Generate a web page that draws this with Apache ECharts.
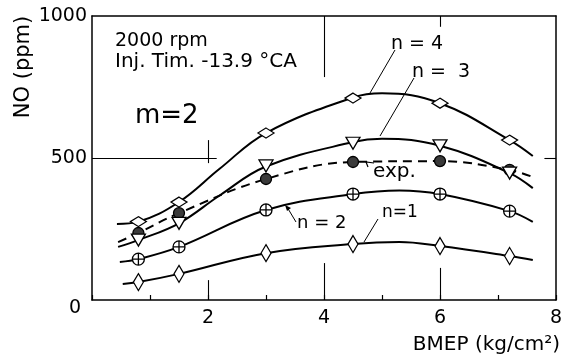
<!DOCTYPE html>
<html>
<head>
<meta charset="utf-8">
<script src="https://cdn.jsdelivr.net/npm/echarts@6/dist/echarts.min.js"></script>
<style>
html,body{margin:0;padding:0;background:#fff;}
#c{width:568px;height:360px;}
</style>
</head>
<body>
<div id="c"></div>
<script>
// Marker positions (BMEP, kg/cm2)
const bmep = [0.8, 1.5, 3.0, 4.5, 6.0, 7.2];
// NO (ppm) at markers
const n4 = [276, 345, 588, 711, 693, 563];
const n3 = [211, 270, 472, 552, 543, 447];
const n2 = [144, 187, 317, 373, 373, 313];
const n1 = [63, 92, 165, 197, 190, 155];
const expv = [236, 306, 426, 486, 489, 458];

// Fitted curves
const n4CurveX = [0.43, 0.8, 1.5, 2.2, 3.0, 4.5, 5.0, 6.0, 7.2, 7.6];
const n4CurveY = [268, 276, 345, 462, 588, 713, 728, 693, 563, 507];
const n3CurveX = [0.45, 0.8, 1.5, 2.2, 3.0, 4.5, 5.0, 6.0, 7.2, 7.6];
const n3CurveY = [187, 211, 270, 368, 470, 556, 568, 543, 447, 394];
const n2CurveX = [0.48, 0.8, 1.5, 3.0, 4.5, 5.3, 6.0, 7.2, 7.6];
const n2CurveY = [134, 144, 187, 317, 373, 386, 373, 313, 275];
const n1CurveX = [0.53, 0.8, 1.5, 3.0, 4.5, 5.3, 6.0, 7.2, 7.6];
const n1CurveY = [56, 63, 92, 165, 197, 204, 190, 155, 141];
const expCurveX = [0.45, 0.8, 1.5, 3.0, 4.5, 6.0, 7.2, 7.6];
const expCurveY = [204, 236, 306, 426, 486, 489, 458, 433];

const xTicks = [2, 4, 6, 8];
const yTicks = [0, 500, 1000];

const FONT = 'DejaVu Sans';
const zip = (xs, ys) => xs.map((x, i) => [x, ys[i]]);

const chart = echarts.init(document.getElementById('c'), null, {renderer: 'canvas'});

function curve(name, xs, ys, dashed) {
  return {
    type: 'line', name: name, data: zip(xs, ys), smooth: 0.4,
    symbol: 'none', silent: true, z: 2,
    lineStyle: {color: '#000', width: 2, type: dashed ? [9, 6] : 'solid'}
  };
}
function marks(name, ys, symbol, size, fill, rotate) {
  return {
    type: 'scatter', name: name, data: zip(bmep, ys), symbol: symbol,
    symbolSize: size, symbolRotate: rotate || 0, silent: true, z: 5,
    itemStyle: {color: fill, borderColor: '#000', borderWidth: 1.3, opacity: 1}
  };
}
const circlePlus = 'path://M10,0A10,10,0,1,1,10,20A10,10,0,1,1,10,0ZM0,10L20,10M10,0L10,20';

const seg = (a, b) => [{coord: a}, {coord: b}];

const option = {
  animation: false,
  backgroundColor: '#fff',
  textStyle: {fontFamily: FONT},
  grid: {left: 92, right: 12, top: 16, bottom: 60},
  xAxis: [{
    type: 'value', min: 0, max: 8, interval: 1,
    axisLine: {show: true, lineStyle: {color: '#000', width: 1.5}},
    axisTick: {show: true, inside: true, length: 5, lineStyle: {color: '#000', width: 1.2}},
    splitLine: {show: false},
    axisLabel: {
      color: '#000', fontSize: 19, fontFamily: FONT, margin: 9,
      formatter: v => xTicks.indexOf(v) >= 0 ? String(v) : ''
    }
  }, {
    type: 'value', min: 0, max: 8, interval: 1, position: 'top',
    axisLine: {show: true, onZero: false, lineStyle: {color: '#000', width: 1.5}},
    axisTick: {show: false}, axisLabel: {show: false}, splitLine: {show: false}
  }],
  yAxis: [{
    type: 'value', min: 0, max: 1000, interval: 500,
    axisLine: {show: true, lineStyle: {color: '#000', width: 1.5}},
    axisTick: {show: false},
    splitLine: {show: false},
    axisLabel: {
      color: '#000', fontSize: 19, fontFamily: FONT, margin: 5,
      formatter: v => yTicks.indexOf(v) >= 0 ? (v === 0 ? '{z|0}' : String(v)) : '',
      rich: {z: {fontSize: 19, fontFamily: FONT, color: '#000', padding: [16, 6, 0, 0]}}
    }
  }, {
    type: 'value', min: 0, max: 1000, interval: 500, position: 'right',
    axisLine: {show: true, onZero: false, lineStyle: {color: '#000', width: 1.5}},
    axisTick: {show: false}, axisLabel: {show: false}, splitLine: {show: false}
  }],
  series: [
    {
      type: 'line', data: [], silent: true,
      markLine: {
        silent: true, symbol: 'none', label: {show: false},
        lineStyle: {color: '#000', width: 1.1, type: 'solid'},
        data: [
          seg([0, 500], [2.15, 500]),
          seg([2, 482], [2, 563]),
          seg([2, 0], [2, 70]),
          seg([4, 0], [4, 130]),
          seg([6, 0], [6, 113]),
          seg([4, 1000], [4, 785]),
          seg([6, 1000], [6, 962]),
          seg([7.8, 500], [8, 500])
        ]
      }
    },
    curve('n=4 curve', n4CurveX, n4CurveY, false),
    curve('n=3 curve', n3CurveX, n3CurveY, false),
    curve('n=2 curve', n2CurveX, n2CurveY, false),
    curve('n=1 curve', n1CurveX, n1CurveY, false),
    curve('exp. curve', expCurveX, expCurveY, true),
    marks('exp.', expv, 'circle', 11, '#3a3a3a'),
    marks('n=4', n4, 'diamond', [16, 10], '#fff'),
    marks('n=3', n3, 'triangle', [14, 12], '#fff', 180),
    marks('n=2', n2, circlePlus, 12, '#fff'),
    marks('n=1', n1, 'diamond', [10, 17], '#fff')
  ],
  graphic: [
    {type: 'text', x: 24, y: 67, rotation: Math.PI / 2,
      style: {text: 'NO (ppm)', x: 0, y: 0, fontSize: 21, fontFamily: FONT, fill: '#000',
        textAlign: 'center', textVerticalAlign: 'middle'}},
    {type: 'text', style: {text: 'BMEP (kg/cm²)', x: 560, y: 345, fontSize: 20, fontFamily: FONT, fill: '#000',
      textAlign: 'right', textVerticalAlign: 'middle'}},
    {type: 'text', style: {text: '2000 rpm', x: 115, y: 41, fontSize: 19, fontFamily: FONT, fill: '#000',
      textAlign: 'left', textVerticalAlign: 'middle'}},
    {type: 'text', style: {text: 'Inj. Tim. -13.9 °CA', x: 115, y: 62, fontSize: 20, fontFamily: FONT, fill: '#000',
      textAlign: 'left', textVerticalAlign: 'middle'}},
    {type: 'text', style: {text: 'm=2', x: 135, y: 116, fontSize: 26, fontFamily: FONT, fill: '#000',
      textAlign: 'left', textVerticalAlign: 'middle'}},
    {type: 'text', style: {text: 'n = 4', x: 391, y: 44, fontSize: 19, fontFamily: FONT, fill: '#000',
      textAlign: 'left', textVerticalAlign: 'middle'}},
    {type: 'line', shape: {x1: 395, y1: 50, x2: 370, y2: 93}, style: {stroke: '#000', lineWidth: 1}},
    {type: 'text', style: {text: 'n =  3', x: 412, y: 72, fontSize: 19, fontFamily: FONT, fill: '#000',
      textAlign: 'left', textVerticalAlign: 'middle'}},
    {type: 'line', shape: {x1: 414, y1: 78, x2: 380, y2: 136}, style: {stroke: '#000', lineWidth: 1}},
    {type: 'text', style: {text: 'exp.', x: 373, y: 172, fontSize: 20, fontFamily: FONT, fill: '#000',
      textAlign: 'left', textVerticalAlign: 'middle'}},
    {type: 'polyline', shape: {points: [[368, 167], [366, 162], [374, 163]]}, style: {stroke: '#000', lineWidth: 1.2, fill: null}},
    {type: 'text', style: {text: 'n = 2', x: 297, y: 223, fontSize: 18, fontFamily: FONT, fill: '#000',
      textAlign: 'left', textVerticalAlign: 'middle'}},
    {type: 'line', shape: {x1: 296, y1: 222, x2: 287, y2: 207}, style: {stroke: '#000', lineWidth: 1}},
    {type: 'polygon', shape: {points: [[285, 205], [291, 208], [287, 211]]}, style: {fill: '#000'}},
    {type: 'text', style: {text: 'n=1', x: 382, y: 213, fontSize: 17, fontFamily: FONT, fill: '#000',
      textAlign: 'left', textVerticalAlign: 'middle'}},
    {type: 'line', shape: {x1: 378, y1: 219, x2: 364, y2: 242}, style: {stroke: '#000', lineWidth: 1}}
  ]
};
chart.setOption(option);
</script>
</body>
</html>
